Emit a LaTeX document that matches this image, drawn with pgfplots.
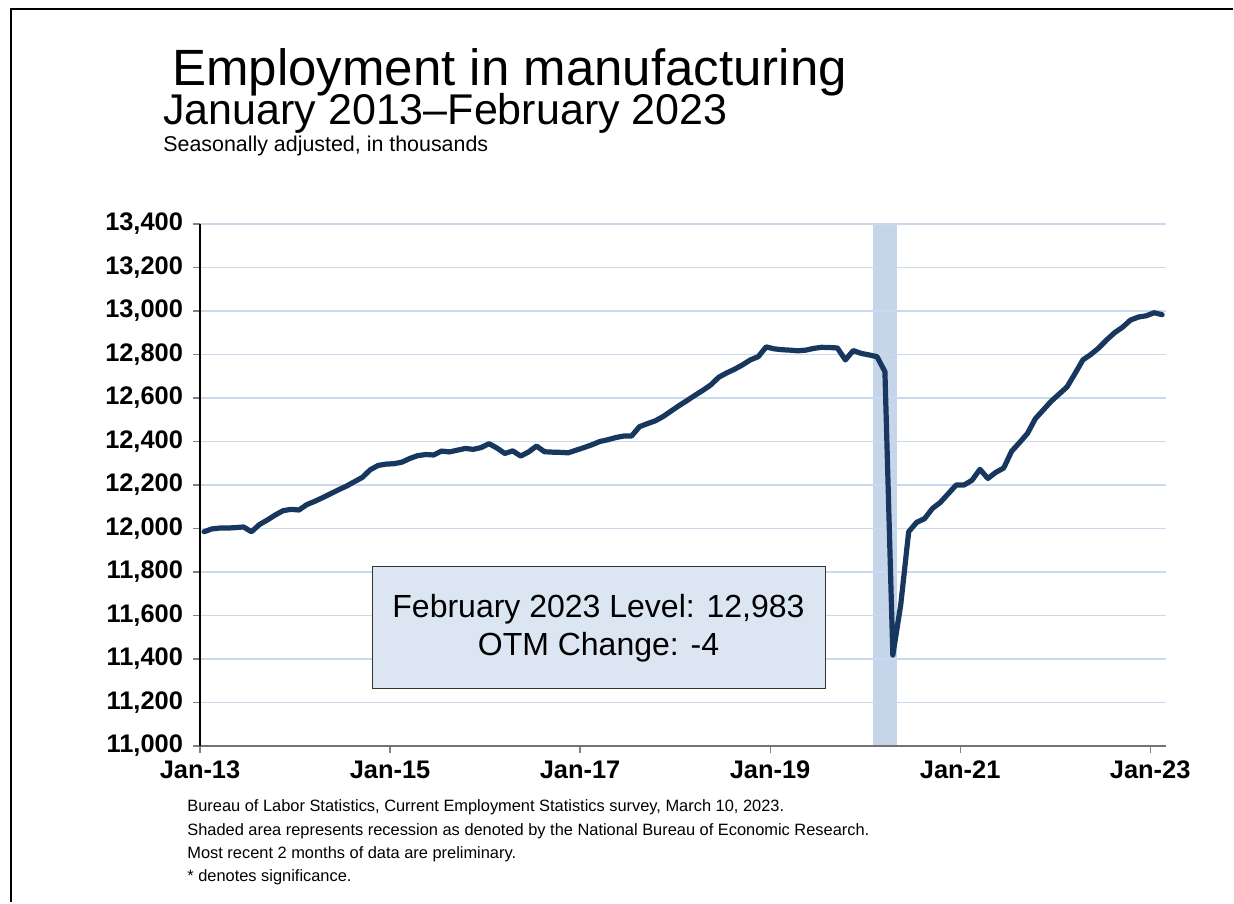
\documentclass[border=0pt]{standalone}
\usepackage{pgfplots}
\pgfplotsset{compat=1.18}
\usepackage{pgfplotstable}
\usepackage{fontspec}
\setmainfont{Liberation Sans}
\definecolor{navy}{HTML}{17375E}
\definecolor{gridblue}{HTML}{C9DAEE}
\definecolor{shadeblue}{HTML}{C6D6EA}
\definecolor{boxblue}{HTML}{DCE6F2}

% month index (0 = Jan 2013), level in thousands
\pgfplotstableread{
m v
0 11985
1 11998
2 12002
3 12002
4 12004
5 12007
6 11985
7 12018
8 12039
9 12062
10 12082
11 12088
12 12085
13 12110
14 12125
15 12142
16 12160
17 12178
18 12195
19 12215
20 12235
21 12270
22 12290
23 12296
24 12298
25 12305
26 12322
27 12335
28 12340
29 12338
30 12356
31 12352
32 12360
33 12368
34 12364
35 12372
36 12390
37 12370
38 12345
39 12357
40 12333
41 12352
42 12379
43 12353
44 12351
45 12350
46 12348
47 12360
48 12372
49 12385
50 12400
51 12408
52 12418
53 12425
54 12425
55 12468
56 12482
57 12495
58 12515
59 12540
60 12565
61 12588
62 12612
63 12635
64 12660
65 12695
66 12715
67 12732
68 12752
69 12775
70 12790
71 12835
72 12826
73 12822
74 12820
75 12817
76 12820
77 12828
78 12833
79 12832
80 12830
81 12775
82 12818
83 12805
84 12798
85 12790
86 12721
87 11418
88 11650
89 11985
90 12028
91 12045
92 12092
93 12120
94 12160
95 12200
96 12200
97 12222
98 12272
99 12230
100 12258
101 12278
102 12355
103 12395
104 12437
105 12505
106 12545
107 12585
108 12618
109 12651
110 12712
111 12775
112 12800
113 12830
114 12867
115 12900
116 12925
117 12958
118 12972
119 12978
120 12992
121 12983
}\mfg

\begin{document}
\begin{tikzpicture}
\path (0,0) rectangle (617pt,451.5pt);

\begin{axis}[
    at={(100pt,78.5pt)}, anchor=south west,
    width=483pt, height=261pt, scale only axis,
    xmin=0, xmax=122, ymin=11000, ymax=13400,
    axis x line*=bottom, axis y line*=left,
    x axis line style={draw=black!55, line width=0.8pt},
    y axis line style={draw=black, line width=0.8pt},
    tick align=outside,
    major tick length=3.5pt,
    tick style={line width=0.6pt},
    xtick={0,24,...,120},
    xticklabels={Jan-13,Jan-15,Jan-17,Jan-19,Jan-21,Jan-23},
    ytick={11000,11200,...,13400},
    ymajorgrids,
    grid style={draw=gridblue, line width=0.8pt},
    ticklabel style={font=\fontsize{12.7}{14}\selectfont\bfseries},
    yticklabel style={xshift=-1.5pt},
    xticklabel style={yshift=-0.5pt},
    /pgf/number format/assume math mode=true,
    /pgf/number format/1000 sep={,},
    scaled y ticks=false,
    set layers,
]
% recession shading, Feb-Apr 2020
\addplot[fill=shadeblue, draw=none, on layer=axis background]
    coordinates {(85,11000) (85,13400) (88,13400) (88,11000)} -- cycle;
\addplot[navy, line width=2.6pt, line join=round, line cap=round]
    table[x expr=\thisrow{m}+0.5, y=v] {\mfg};
\end{axis}

\begin{scope}[x=0.5pt, y=-0.5pt, shift={(0,451.5pt)}]
\draw[black, line width=1pt] (11,902) -- (11,9.5) -- (1233,9.5);
\node[anchor=base west, inner sep=0, font=\fontsize{25.5}{30}\selectfont] at (172,86) {Employment in manufacturing};
\node[anchor=base west, inner sep=0, font=\fontsize{21.5}{26}\selectfont] at (163,125) {January 2013–February 2023};
\node[anchor=base west, inner sep=0, font=\fontsize{10.7}{13}\selectfont] at (163,152) {Seasonally adjusted, in thousands};

\node[draw=black!80, line width=0.5pt, fill=boxblue, minimum width=226.5pt, minimum height=61pt,
      inner sep=0, align=center, font=\fontsize{16}{19}\selectfont] at (598.5,628)
      {February 2023 Level: 12,983\\OTM Change: -4};

\begin{scope}[every node/.style={anchor=base west, inner sep=0, font=\fontsize{8.2}{10}\selectfont}]
\node at (187,812) {Bureau of Labor Statistics, Current Employment Statistics survey, March 10, 2023.};
\node at (187,835) {Shaded area represents recession as denoted by the National Bureau of Economic Research.};
\node at (187,858) {Most recent 2 months of data are preliminary.};
\node at (187,881) {* denotes significance.};
\end{scope}
\end{scope}
\end{tikzpicture}
\end{document}
